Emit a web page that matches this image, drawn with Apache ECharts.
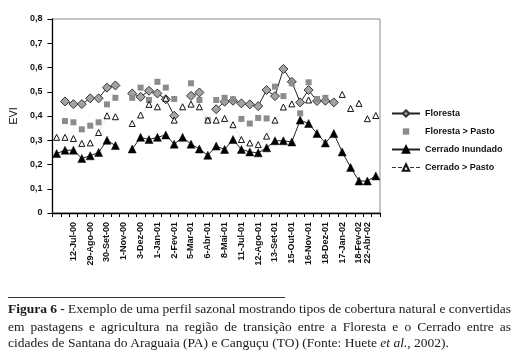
<!DOCTYPE html>
<html><head><meta charset="utf-8">
<script src="https://cdn.jsdelivr.net/npm/echarts@6/dist/echarts.min.js"></script>
<style>
html,body{margin:0;padding:0;background:#fff;}
#chart{position:absolute;left:0;top:0;width:520px;height:359px;}
.cap{position:absolute;left:8px;white-space:nowrap;font-family:"Liberation Serif","Times New Roman",serif;color:#1a1a1a;line-height:17px;font-size:12px;}
</style></head><body>
<div id="chart"></div>
<div id="l1" class="cap" style="top:299.5px"><b>Figura 6 -</b> Exemplo de uma perfil sazonal mostrando tipos de cobertura natural e convertidas</div>
<div id="l2" class="cap" style="top:317.5px">em pastagens e agricultura na região de transição entre a Floresta e o Cerrado entre as</div>
<div id="l3" class="cap" style="top:333.5px">cidades de Santana do Araguaia (PA) e Canguçu (TO) (Fonte: Huete <i>et al.</i>, 2002).</div>
<script>
// 39 composite periods (category slots); only some carry a tick label
const tickLabels = ['', '', '12-Jul-00', '', '29-Ago-00', '', '30-Set-00', '', '1-Nov-00', '', '3-Dez-00', '', '1-Jan-01', '', '2-Fev-01', '', '5-Mar-01', '', '6-Abr-01', '', '8-Mai-01', '', '11-Jul-01', '', '12-Ago-01', '', '13-Set-01', '', '15-Out-01', '', '16-Nov-01', '', '18-Dez-01', '', '17-Jan-02', '', '18-Fev-02', '22-Abr-02', ''];
const categories = ['p1','p2','p3','p4','p5','p6','p7','p8','p9','p10','p11','p12','p13','p14','p15','p16','p17','p18','p19','p20','p21','p22','p23','p24','p25','p26','p27','p28','p29','p30','p31','p32','p33','p34','p35','p36','p37','p38','p39'];
const yTicks = [0, 0.8, 0.1];

const floresta = [null, 0.460, 0.449, 0.449, 0.473, 0.473, 0.517, 0.526, null, 0.493, 0.479, 0.504, 0.493, 0.469, 0.401, null, 0.483, 0.497, null, 0.428, 0.459, 0.463, 0.452, 0.448, 0.441, 0.507, 0.482, 0.594, 0.541, 0.456, 0.507, 0.462, 0.463, 0.456, null, null, null, null, null];
const florestaPasto = [null, 0.379, 0.374, 0.345, 0.360, 0.374, 0.448, 0.475, null, 0.475, 0.517, 0.466, 0.541, 0.517, 0.470, null, 0.535, 0.466, 0.383, 0.466, 0.475, 0.469, 0.388, 0.369, 0.392, 0.390, 0.521, 0.482, 0.535, 0.411, 0.539, 0.470, 0.475, null, null, null, null, null, null];
const cerradoInundado = [0.245, 0.259, 0.259, 0.225, 0.236, 0.250, 0.300, 0.278, null, 0.264, 0.312, 0.303, 0.312, 0.322, 0.284, 0.312, 0.284, 0.264, 0.238, 0.276, 0.262, 0.303, 0.262, 0.252, 0.248, 0.269, 0.298, 0.298, 0.293, 0.383, 0.369, 0.328, 0.289, 0.328, 0.252, 0.188, 0.132, 0.132, 0.153];
const cerradoPasto = [0.312, 0.312, 0.307, 0.287, 0.289, 0.332, 0.401, 0.397, null, 0.369, 0.404, 0.448, 0.438, 0.473, 0.383, 0.438, 0.449, 0.438, 0.383, 0.383, 0.390, 0.364, 0.303, 0.289, 0.282, 0.317, 0.383, 0.437, 0.450, null, 0.466, null, null, null, 0.489, 0.431, 0.452, 0.389, 0.402];

const sans = '"Liberation Sans", Arial, sans-serif';
const chart = echarts.init(document.getElementById('chart'), null, {renderer: 'canvas'});
chart.setOption({
  animation: false,
  grid: {left: 49, top: 19, width: 331, height: 194, show: true, borderColor: '#8a8a8a', borderWidth: 1},
  legend: {
    orient: 'vertical', left: 391, top: 108, padding: 0,
    itemWidth: 28, itemHeight: 8, itemGap: 7,
    textStyle: {fontSize: 9, fontWeight: 'bold', fontFamily: sans, color: '#111', lineHeight: 11},
    data: [
      {name: 'Floresta'},
      {name: 'Floresta > Pasto'},
      {name: 'Cerrado Inundado'},
      {name: 'Cerrado > Pasto', lineStyle: {color: '#333', type: 'dashed', width: 1}}
    ]
  },
  xAxis: {
    type: 'category', data: categories, boundaryGap: true,
    axisLine: {lineStyle: {color: '#000', width: 1.3}},
    axisTick: {show: true, interval: 0, length: 4, lineStyle: {color: '#000'}},
    axisLabel: {interval: 0, rotate: 90, margin: 9, formatter: (v, i) => tickLabels[i],
      fontSize: 9, fontWeight: 'bold', fontFamily: sans, color: '#111'},
    splitLine: {show: false}
  },
  yAxis: {
    type: 'value', min: yTicks[0], max: yTicks[1], interval: yTicks[2],
    name: 'EVI', nameLocation: 'middle', nameGap: 28, nameRotate: 90,
    nameTextStyle: {fontSize: 11, fontFamily: sans, color: '#111'},
    axisLine: {show: true, lineStyle: {color: '#000', width: 1.3}},
    axisTick: {show: true, length: 5, lineStyle: {color: '#000'}},
    axisLabel: {formatter: v => v === 0 ? '0' : v.toFixed(1).replace('.', ','),
      fontSize: 9, fontWeight: 'bold', fontFamily: sans, color: '#111', margin: 10},
    splitLine: {show: false}
  },
  series: [
    {name: 'Floresta', type: 'line', data: floresta, symbol: 'diamond', symbolSize: 9, connectNulls: false,
      itemStyle: {color: '#a3a3a3', borderColor: '#333', borderWidth: 1},
      lineStyle: {color: '#222', width: 1}, z: 3},
    {name: 'Floresta > Pasto', type: 'line', data: florestaPasto, symbol: 'rect', symbolSize: 6, showSymbol: true,
      itemStyle: {color: '#8c8c8c'}, lineStyle: {width: 0, opacity: 0}, z: 4},
    {name: 'Cerrado Inundado', type: 'line', data: cerradoInundado, symbol: 'triangle', symbolSize: 8, connectNulls: false,
      itemStyle: {color: '#000', borderColor: '#000', borderWidth: 0.5},
      lineStyle: {color: '#222', width: 1}, z: 3},
    {name: 'Cerrado > Pasto', type: 'line', data: cerradoPasto, symbol: 'triangle', symbolSize: 6, connectNulls: false,
      itemStyle: {color: '#fff', borderColor: '#111', borderWidth: 1},
      lineStyle: {color: '#bbb', width: 0.6, type: 'dotted'}, z: 5}
  ],
  graphic: [
    {type: 'line', shape: {x1: 8, y1: 297.5, x2: 285, y2: 297.5}, style: {stroke: '#333', lineWidth: 1}}
  ]
});

(function fitCaption(){
  const ls = ['l1','l2','l3'].map(id => document.getElementById(id));
  const w3 = ls[2].getBoundingClientRect().width;
  let fs = 12 * 457 / w3;
  fs = Math.max(10.5, Math.min(13.5, fs));
  ls.forEach(l => l.style.fontSize = fs + 'px');
  [ls[0], ls[1]].forEach(l => {
    const w = l.getBoundingClientRect().width;
    const spaces = (l.textContent.match(/ /g) || []).length;
    l.style.wordSpacing = ((503 - w) / spaces) + 'px';
  });
})();
</script>
</body></html>
